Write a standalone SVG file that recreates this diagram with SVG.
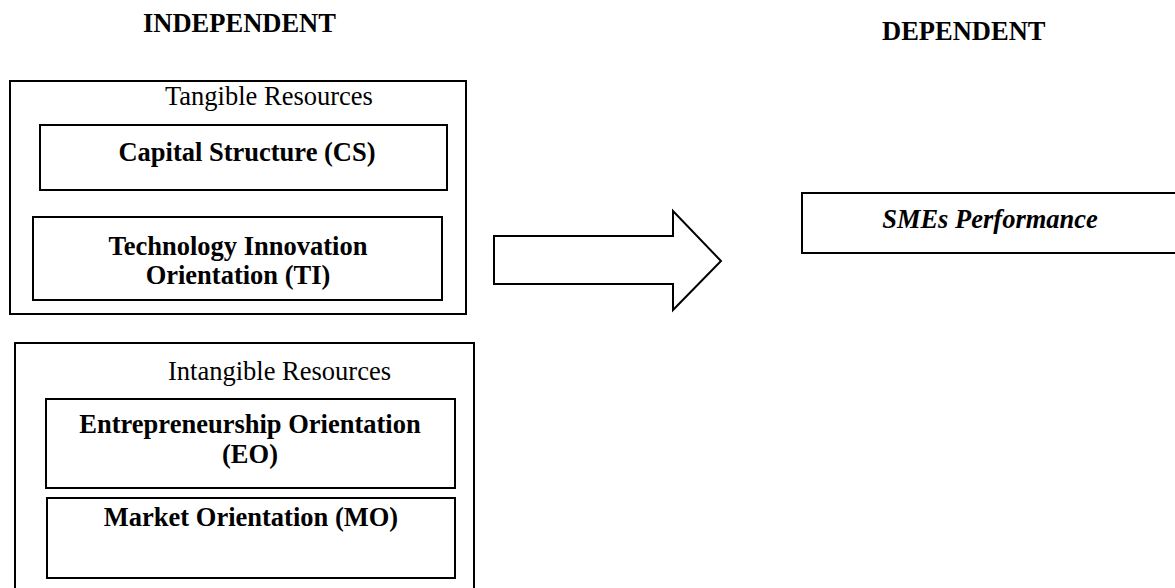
<svg xmlns="http://www.w3.org/2000/svg" width="1175" height="588" viewBox="0 0 1175 588">
<style>
.box{fill:#fff;stroke:#000;stroke-width:2}
.t{font-family:"Liberation Serif","Times New Roman",serif;font-size:26.5px;fill:#000}
.b{font-weight:bold}
.c{text-anchor:middle}
</style>
<rect width="1175" height="588" fill="#fff"/>
<g id="headers">
<text class="t b" x="143" y="32">INDEPENDENT</text>
<text class="t b" x="882" y="40">DEPENDENT</text>
</g>
<g id="tangible">
<rect class="box" x="10" y="81" width="456" height="233"/>
<text class="t" x="165" y="105">Tangible Resources</text>
</g>
<g id="cs">
<rect class="box" x="40" y="125" width="407" height="65"/>
<text class="t b c" x="247" y="161">Capital Structure (CS)</text>
</g>
<g id="ti">
<rect class="box" x="33" y="217" width="409" height="83"/>
<text class="t b c" x="238" y="255">Technology Innovation</text>
<text class="t b c" x="238" y="284">Orientation (TI)</text>
</g>
<g id="intangible">
<rect class="box" x="15" y="343" width="459" height="260"/>
<text class="t" x="168" y="380">Intangible Resources</text>
</g>
<g id="eo">
<rect class="box" x="46" y="399" width="409" height="89"/>
<text class="t b c" x="250" y="433">Entrepreneurship Orientation</text>
<text class="t b c" x="250" y="463">(EO)</text>
</g>
<g id="mo">
<rect class="box" x="47" y="498" width="408" height="80"/>
<text class="t b c" x="251" y="526">Market Orientation (MO)</text>
</g>
<g id="connectors">
<polygon class="box" points="494,236 673,236 673,211 721,261 673,310 673,284 494,284"/>
</g>
<g id="smes">
<rect class="box" x="802" y="193" width="390" height="60"/>
<text class="t b c" x="990" y="228" font-style="italic">SMEs Performance</text>
</g>
</svg>
